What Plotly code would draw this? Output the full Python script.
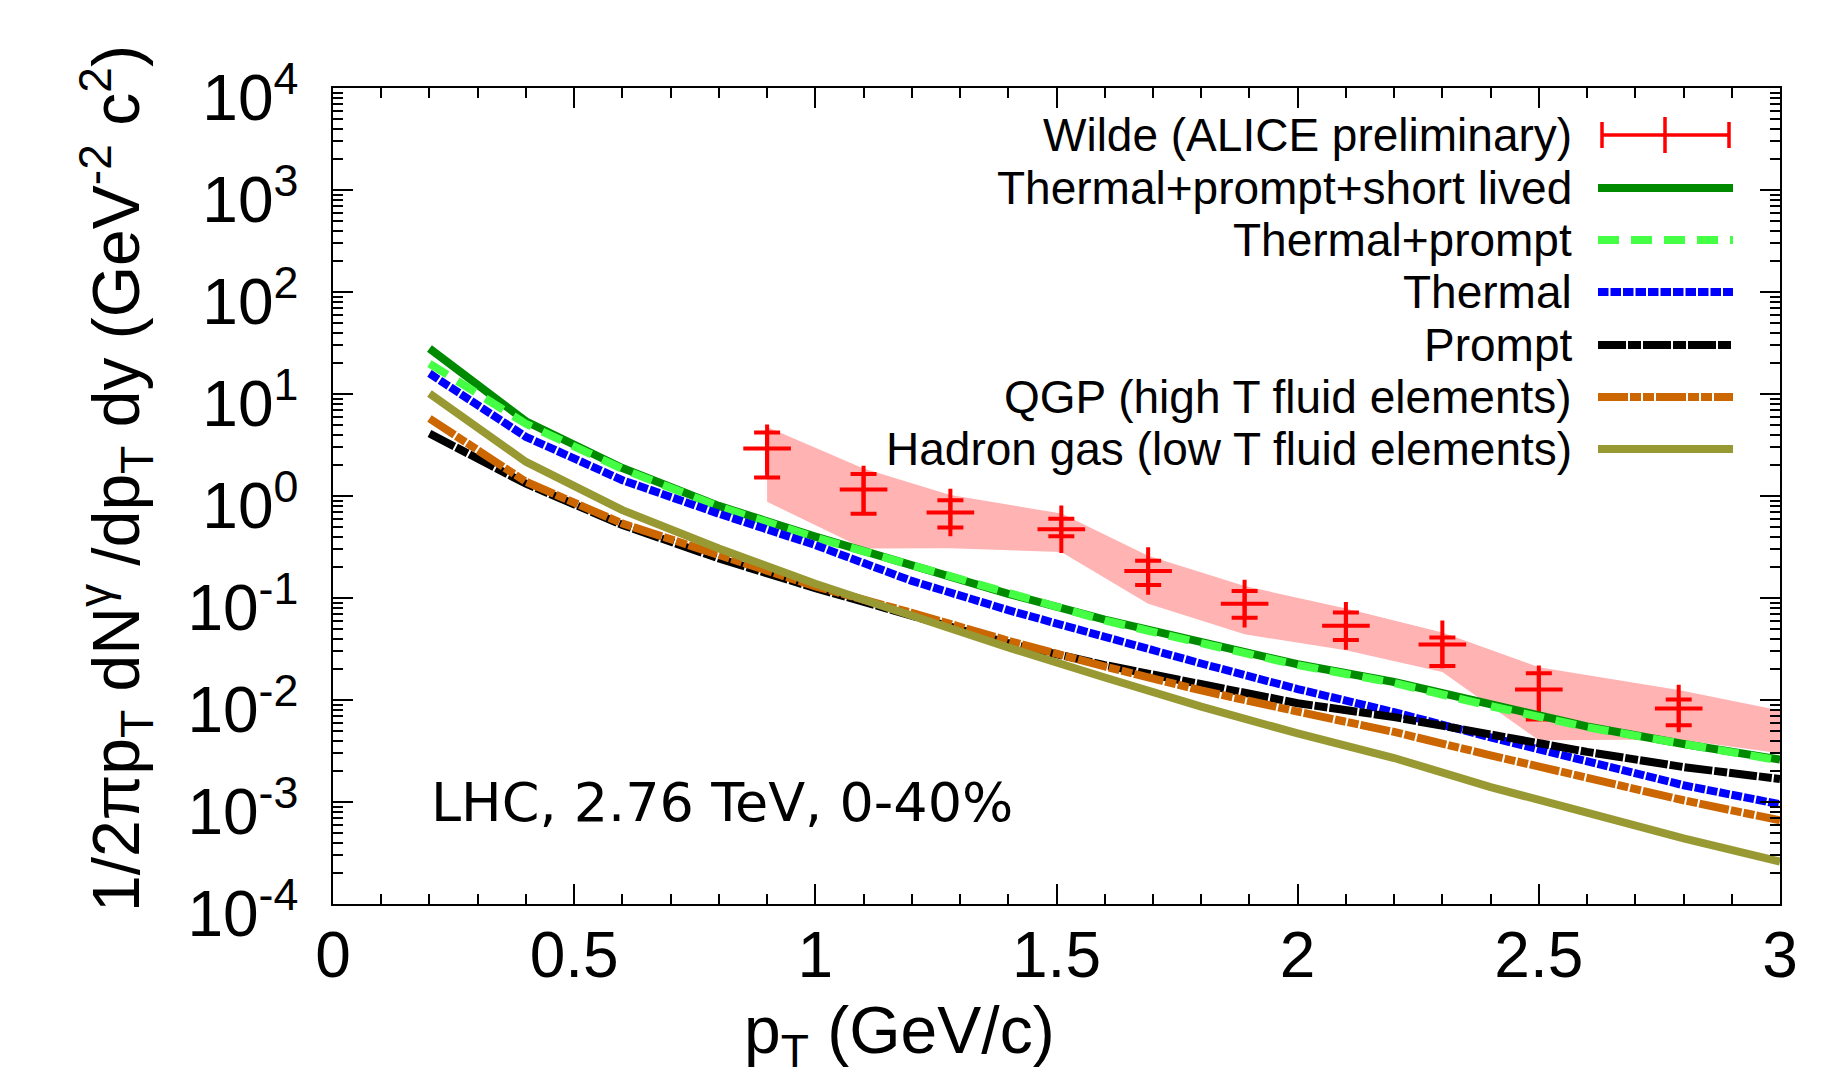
import plotly.graph_objects as go

# ---------------- data ----------------
pt_model = [0.2, 0.4, 0.6, 0.8, 1.0, 1.2, 1.4, 1.6, 1.8, 2.0, 2.2, 2.4, 2.6, 2.8, 3.0]
thermal_prompt_short = [27.9, 5.4, 1.88, 0.80, 0.40, 0.213, 0.110, 0.0614, 0.0368, 0.0224, 0.0150, 0.0089, 0.0055, 0.0037, 0.0026]
thermal_prompt = [19.9, 5.1, 1.84, 0.785, 0.392, 0.209, 0.108, 0.0602, 0.0361, 0.0220, 0.0147, 0.0087, 0.0054, 0.00363, 0.00255]
thermal = [15.9, 3.8, 1.43, 0.67, 0.33, 0.147, 0.076, 0.041, 0.0228, 0.0128, 0.0076, 0.0043, 0.0025, 0.00146, 0.00095]
prompt = [4.1, 1.32, 0.52, 0.244, 0.125, 0.066, 0.036, 0.022, 0.0143, 0.0093, 0.0068, 0.0045, 0.0031, 0.0022, 0.00168]
qgp = [5.75, 1.38, 0.537, 0.262, 0.13, 0.0716, 0.0381, 0.0213, 0.0124, 0.0077, 0.00486, 0.00287, 0.0017, 0.00104, 0.00066]
hadron_gas = [10.1, 2.16, 0.726, 0.306, 0.138, 0.067, 0.0327, 0.0166, 0.0086, 0.0047, 0.0027, 0.0014, 0.00077, 0.00044, 0.00026]

pt_data = [0.9, 1.1, 1.28, 1.51, 1.69, 1.89, 2.1, 2.3, 2.5, 2.79]
y_data = [2.93, 1.16, 0.689, 0.472, 0.184, 0.088, 0.0533, 0.0351, 0.0127, 0.00826]
y_data_hi = [4.2, 1.64, 0.91, 0.60, 0.232, 0.117, 0.072, 0.0411, 0.0183, 0.0101]
y_data_lo = [1.52, 0.67, 0.49, 0.404, 0.134, 0.064, 0.0387, 0.0215, 0.00645, 0.00565]

band_x = [0.9, 1.1, 1.28, 1.51, 1.69, 1.89, 2.1, 2.3, 2.5, 2.79, 3.0]
band_hi = [4.76, 1.86, 1.02, 0.673, 0.26, 0.131, 0.079, 0.046, 0.021, 0.0125, 0.0079]
band_lo = [0.877, 0.306, 0.307, 0.283, 0.088, 0.044, 0.0308, 0.0188, 0.00403, 0.0041, 0.0030]

x_tickvals = [0, 0.5, 1, 1.5, 2, 2.5, 3]
x_ticktext = ["0", "0.5", "1", "1.5", "2", "2.5", "3"]
y_exponents = [-4, -3, -2, -1, 0, 1, 2, 3, 4]

legend_labels = [
    "Wilde (ALICE preliminary)",
    "Thermal+prompt+short lived",
    "Thermal+prompt",
    "Thermal",
    "Prompt",
    "QGP (high T fluid elements)",
    "Hadron gas (low T fluid elements)",
]

# ---------------- layout geometry (pixels) ----------------
W, H = 1821, 1079
L, R, T, B = 333, 1780, 88, 904

def px(xp):
    return (xp - L) / (R - L)

def py(yp):
    return (B - yp) / (B - T)

FONT = "Liberation Sans, Arial, sans-serif"
LW = 8

styles = [
    dict(color="#008a00", width=LW, dash="solid"),
    dict(color="#44ff44", width=LW, dash="21px,12px"),
    dict(color="#0000ff", width=LW, dash="10.5px,2px"),
    dict(color="#000000", width=LW, dash="28px,2px,13px,2px"),
    dict(color="#cc6600", width=LW, dash="30px,2px,11px,2px,11px,2px"),
    dict(color="#999933", width=LW, dash="solid"),
]
series = [thermal_prompt_short, thermal_prompt, thermal, prompt, qgp, hadron_gas]

fig = go.Figure()

# systematic band
fig.add_trace(go.Scatter(
    x=band_x + band_x[::-1], y=band_hi + band_lo[::-1],
    fill="toself", fillcolor="#ffb3b3", mode="lines",
    line=dict(width=0, color="#ffb3b3"), hoverinfo="skip", showlegend=False))

# data
fig.add_trace(go.Scatter(
    x=pt_data, y=y_data, mode="markers",
    marker=dict(symbol="cross-thin", size=34, color="#ff0000",
                line=dict(width=4, color="#ff0000")),
    error_y=dict(type="data", symmetric=False,
                 array=[h - v for h, v in zip(y_data_hi, y_data)],
                 arrayminus=[v - l for v, l in zip(y_data, y_data_lo)],
                 color="#ff0000", thickness=4, width=13),
    showlegend=False))

for ys, st in zip(series, styles):
    fig.add_trace(go.Scatter(x=pt_model, y=ys, mode="lines", line=st, showlegend=False))

# ---------------- manual legend ----------------
rows_y = [135, 188, 240, 292, 345, 397, 449]
text_right = 1574
s0, s1 = 1598, 1733
shapes = []
annotations = []
for lab, ry in zip(legend_labels, rows_y):
    annotations.append(dict(
        text=lab, x=px(text_right), y=py(ry), xref="paper", yref="paper",
        xanchor="right", yanchor="middle", showarrow=False,
        font=dict(family=FONT, size=46, color="black")))

# red errorbar sample
ry = rows_y[0]
red = dict(color="#ff0000", width=3.5)
shapes.append(dict(type="line", xref="paper", yref="paper",
                   x0=px(1602), x1=px(1729), y0=py(ry), y1=py(ry), line=red))
for cx, hh in [(1602, 13), (1729, 13), (1665, 18)]:
    shapes.append(dict(type="line", xref="paper", yref="paper",
                       x0=px(cx), x1=px(cx), y0=py(ry - hh), y1=py(ry + hh), line=red))
for st, ry in zip(styles, rows_y[1:]):
    shapes.append(dict(type="line", xref="paper", yref="paper",
                       x0=px(s0), x1=px(s1), y0=py(ry), y1=py(ry),
                       line=dict(color=st["color"], width=st["width"], dash=st["dash"])))

# in-plot label
annotations.append(dict(
    text="LHC, 2.76 TeV, 0-40%", x=0.2, y=-3.0, xref="x", yref="y",
    xanchor="left", yanchor="middle", showarrow=False,
    font=dict(family="DejaVu Sans, sans-serif", size=54, color="black")))

# axis titles
annotations.append(dict(
    text="p<sub>T</sub> (GeV/c)", x=1.175, xref="x", y=py(1035), yref="paper",
    xanchor="center", yanchor="middle", showarrow=False,
    font=dict(family=FONT, size=66, color="black")))
annotations.append(dict(
    text="1/2πp<sub>T</sub> dN<sup>γ</sup> /dp<sub>T</sub> dy (GeV<sup>-2</sup> c<sup>2</sup>)",
    x=px(116), y=py(479), xref="paper", yref="paper", textangle=-90,
    xanchor="center", yanchor="middle", showarrow=False,
    font=dict(family=FONT, size=66, color="black")))

axis_common = dict(
    showline=True, linecolor="black", linewidth=1.5, mirror="allticks",
    ticks="inside", tickcolor="black", tickwidth=1.5, ticklen=20,
    showgrid=False, zeroline=False, automargin=False,
    tickfont=dict(family=FONT, size=64, color="black"),
)

fig.update_layout(
    width=W, height=H,
    margin=dict(l=L, r=W - R, t=T, b=H - B, pad=0),
    paper_bgcolor="white", plot_bgcolor="white",
    showlegend=False,
    shapes=shapes, annotations=annotations,
    xaxis=dict(range=[0, 3], tickvals=x_tickvals, ticktext=x_ticktext,
               ticklabelstandoff=-6,
               minor=dict(ticks="inside", ticklen=10, dtick=0.1, tickcolor="black",
                          tickwidth=1.5, showgrid=False),
               **axis_common),
    yaxis=dict(type="log", range=[-4, 4],
               tickvals=[10 ** e for e in y_exponents],
               ticktext=["10<sup>%d</sup>" % e for e in y_exponents],
               ticklabelstandoff=20, ticklabelshift=10,
               minor=dict(ticks="inside", ticklen=10, dtick="D1", tickcolor="black",
                          tickwidth=1.5, showgrid=False),
               **axis_common),
)

fig.write_html("out.html")
